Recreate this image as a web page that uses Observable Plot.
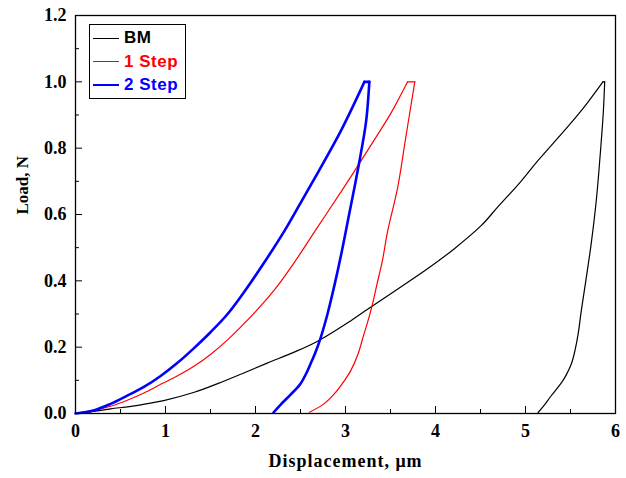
<!DOCTYPE html>
<html>
<head>
<meta charset="utf-8">
<script src="https://cdn.jsdelivr.net/npm/d3@7"></script>
<script src="https://cdn.jsdelivr.net/npm/@observablehq/plot@0.6"></script>
<style>
  html, body { margin: 0; padding: 0; background: #fff; }
  #wrap { position: relative; width: 626px; height: 478px; }
  #legend {
    position: absolute; left: 89px; top: 24px; width: 97px; height: 75px;
    box-sizing: border-box; border: 1.5px solid #000; background: #fff;
    font-family: "Liberation Sans", Arial, sans-serif; font-weight: bold; font-size: 17px;
  }
  .row { position: absolute; left: 3px; height: 20px; display: flex; align-items: center; }
  .sw { width: 26px; height: 0; margin-right: 5px; }
  .lab { letter-spacing: 0.5px; }
</style>
</head>
<body>
<div id="wrap"></div>
<script>
// ---- data ----
const seriesNames = ["BM", "1 Step", "2 Step"];
const seriesColors = ["#000000", "#ff0000", "#0000ff"];

const bmDisp = [0, 0.2, 0.39, 0.6, 0.8, 0.98, 1.32, 1.58, 1.85, 2.13, 2.43, 2.69, 3.06, 3.25, 3.54, 3.915, 4.21, 4.51, 4.69, 4.95, 5.14, 5.40, 5.62, 5.86, 5.88,
                5.865, 5.845, 5.79, 5.73, 5.67, 5.62, 5.585, 5.55, 5.51, 5.45, 5.40, 5.29, 5.20, 5.14];
const bmLoad = [0, 0.006, 0.014, 0.021, 0.03, 0.039, 0.064, 0.09, 0.12, 0.152, 0.185, 0.218, 0.28, 0.315, 0.368, 0.437, 0.497, 0.567, 0.622, 0.70, 0.763, 0.843, 0.913, 1.0, 1.0,
                0.91, 0.833, 0.652, 0.512, 0.40, 0.31, 0.24, 0.19, 0.15, 0.115, 0.093, 0.055, 0.022, 0.003];

const step1Disp = [0, 0.2, 0.39, 0.575, 0.76, 0.946, 1.13, 1.32, 1.50, 1.69, 1.87, 2.06, 2.245, 2.43, 2.69, 2.95, 3.14, 3.32, 3.51, 3.69, 3.77,
                   3.67, 3.58, 3.47, 3.41, 3.35, 3.30, 3.24, 3.20, 3.14, 3.06, 2.99, 2.875, 2.76, 2.60];
const step1Load = [0, 0.01, 0.022, 0.04, 0.062, 0.088, 0.113, 0.143, 0.178, 0.222, 0.27, 0.325, 0.385, 0.455, 0.562, 0.668, 0.748, 0.825, 0.908, 1.0, 1.0,
                   0.833, 0.682, 0.552, 0.461, 0.39, 0.33, 0.27, 0.235, 0.18, 0.13, 0.10, 0.059, 0.029, 0.004];

const step2Disp = [0, 0.2, 0.39, 0.575, 0.76, 0.946, 1.13, 1.32, 1.50, 1.69, 1.87, 2.06, 2.32, 2.49, 2.69, 2.95, 3.21, 3.265,
                   3.23, 3.17, 3.10, 3.04, 2.96, 2.88, 2.80, 2.72, 2.66, 2.62, 2.58, 2.50, 2.39, 2.28, 2.20];
const step2Load = [0, 0.009, 0.029, 0.054, 0.08, 0.113, 0.152, 0.198, 0.245, 0.30, 0.365, 0.44, 0.55, 0.63, 0.725, 0.853, 1.0, 1.0,
                   0.883, 0.783, 0.682, 0.60, 0.49, 0.39, 0.30, 0.225, 0.18, 0.155, 0.13, 0.09, 0.057, 0.027, 0.003];

const xTicks = [0, 1, 2, 3, 4, 5, 6];
const xMinor = [0.5, 1.5, 2.5, 3.5, 4.5, 5.5];
const yTicks = [0, 0.2, 0.4, 0.6, 0.8, 1.0, 1.2];
const yMinor = [0.1, 0.3, 0.5, 0.7, 0.9, 1.1];
const xTitle = "Displacement, μm";
const yTitle = "Load, N";

// ---- build table: loading, flat hold at peak load, unloading ----
const allDisp = [bmDisp, step1Disp, step2Disp];
const allLoad = [bmLoad, step1Load, step2Load];
const rows = [];
seriesNames.forEach((s, i) => {
  const dx = allDisp[i], ly = allLoad[i];
  const k = dx.indexOf(d3.max(dx));          // end of hold
  const h = ly.indexOf(d3.max(ly));          // start of hold
  dx.forEach((d, j) => {
    if (j <= h) rows.push({series: s, phase: "load", disp: d, load: ly[j]});
    if (j >= h && j <= k) rows.push({series: s, phase: "hold", disp: d, load: ly[j]});
    if (j >= k) rows.push({series: s, phase: "unload", disp: d, load: ly[j]});
  });
});

const W = 626, H = 478, mL = 75, mR = 11, mT = 15, mB = 65;
const innerW = W - mL - mR, innerH = H - mT - mB;
const widthOf = {"BM": 1.2, "1 Step": 1.2, "2 Step": 2.6};

const lineMarks = seriesNames.map(s =>
  Plot.line(rows.filter(r => r.series === s), {
    x: "disp", y: "load", z: "phase", stroke: "series",
    strokeWidth: widthOf[s], curve: "catmull-rom", strokeLinejoin: "miter"
  })
);

const chart = Plot.plot({
  width: W, height: H,
  marginLeft: mL, marginRight: mR, marginTop: mT, marginBottom: mB,
  style: {fontFamily: "'Liberation Serif', 'Times New Roman', serif", fontSize: "18px", fontWeight: "bold", color: "#000", background: "#fff"},
  x: {domain: [0, 6]},
  y: {domain: [0, 1.2]},
  color: {domain: seriesNames, range: seriesColors},
  marks: [
    Plot.axisX(xTicks, {tickSize: 0, tickPadding: 11, tickFormat: d3.format("d"), label: null, fontSize: 18}),
    Plot.axisY(yTicks, {tickSize: 0, tickPadding: 9, tickFormat: d3.format(".1f"), label: null, fontSize: 18}),
    Plot.tickX(xTicks, {x: d => d, insetTop: innerH - 7, stroke: "#000"}),
    Plot.tickX(xMinor, {x: d => d, insetTop: innerH - 4, stroke: "#000"}),
    Plot.tickY(yTicks, {y: d => d, insetRight: innerW - 7, stroke: "#000"}),
    Plot.tickY(yMinor, {y: d => d, insetRight: innerW - 4, stroke: "#000"}),
    ...lineMarks,
    Plot.frame({stroke: "#000", strokeWidth: 1.3}),
    Plot.text([xTitle], {frameAnchor: "bottom", dy: 53, text: d => d, fontSize: 18}),
    Plot.text([yTitle], {frameAnchor: "left", dx: -53, rotate: -90, text: d => d, fontSize: 17})
  ]
});

const wrap = document.getElementById("wrap");
wrap.appendChild(chart);

// spread the x title a little like the reference
chart.querySelectorAll("text").forEach(t => {
  if (t.textContent === xTitle) t.setAttribute("letter-spacing", "1");
});

// legend
const legend = document.createElement("div");
legend.id = "legend";
seriesNames.forEach((s, i) => {
  const row = document.createElement("div");
  row.className = "row";
  row.style.top = (3 + i * 23.5) + "px";
  const sw = document.createElement("span");
  sw.className = "sw";
  sw.style.borderTop = widthOf[s] + "px solid " + seriesColors[i];
  const lab = document.createElement("span");
  lab.className = "lab";
  lab.textContent = s;
  lab.style.color = seriesColors[i];
  row.appendChild(sw);
  row.appendChild(lab);
  legend.appendChild(row);
});
wrap.appendChild(legend);
</script>
</body>
</html>
